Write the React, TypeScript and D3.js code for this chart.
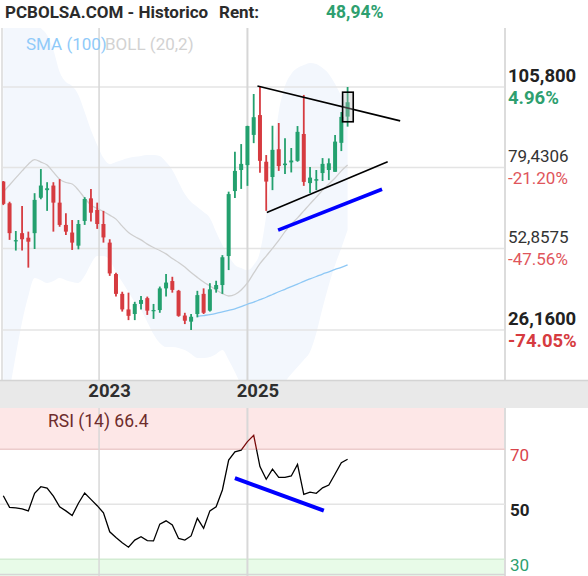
import React from "react";
import * as d3 from "d3";

const W = 588;
const H = 576;

// ---- data (monthly candles, index 0 = Oct 2021) ----
const opens = [74.8, 67.7, 55.2, 57.9, 56.4, 57.9, 69.5, 72.0, 73.5, 67.9, 60.6, 58.1, 53.8, 61.9, 69.3, 65.5, 60.9, 54.8, 44.5, 38.0, 32.9, 31.4, 34.7, 36.6, 32.5, 32.7, 39.8, 42.2, 39.0, 30.9, 28.9, 31.4, 38.0, 32.5, 39.5, 40.9, 50.4, 71.7, 78.6, 80.2, 90.1, 96.6, 81.3, 76.3, 85.4, 80.2, 81.1, 81.6, 90.4, 74.3, 75.1, 77.6, 78.6, 78.0, 87.5, 96.1];
const highs = [75.0, 68.2, 58.6, 66.8, 58.4, 71.0, 78.9, 74.6, 74.6, 75.6, 64.4, 62.2, 62.2, 69.7, 72.4, 67.9, 65.2, 55.9, 44.9, 38.7, 38.4, 35.4, 37.3, 37.1, 34.7, 40.4, 44.5, 43.6, 39.3, 31.8, 31.4, 39.0, 39.8, 41.5, 42.3, 50.7, 71.5, 84.6, 87.1, 93.1, 103.5, 105.8, 83.5, 93.1, 94.0, 89.0, 85.8, 93.0, 103.2, 79.6, 78.6, 82.5, 82.4, 90.1, 97.6, 105.8];
const lows = [67.1, 55.7, 52.2, 52.2, 46.6, 52.7, 69.0, 65.2, 58.4, 60.0, 57.3, 52.4, 52.6, 60.6, 61.7, 59.3, 54.8, 43.9, 37.1, 32.2, 29.4, 29.4, 32.9, 31.1, 29.8, 31.8, 37.1, 38.4, 30.5, 28.1, 26.16, 30.3, 31.4, 32.2, 38.4, 38.0, 45.8, 69.4, 72.4, 73.4, 87.4, 77.7, 65.2, 72.0, 78.3, 77.3, 77.8, 81.3, 73.4, 71.1, 72.0, 75.0, 75.3, 78.0, 84.8, 92.8];
const closes = [67.5, 57.9, 55.6, 55.9, 55.1, 68.8, 73.5, 72.6, 67.9, 60.6, 58.4, 54.8, 60.9, 69.1, 64.6, 60.9, 56.5, 44.7, 38.0, 32.9, 30.8, 34.7, 36.0, 32.5, 32.7, 39.8, 41.7, 39.3, 30.8, 29.2, 30.5, 37.6, 31.8, 39.5, 40.9, 50.0, 70.7, 78.3, 80.6, 93.0, 95.9, 81.6, 74.8, 85.2, 79.9, 80.7, 81.7, 91.1, 74.7, 76.1, 75.6, 80.6, 80.8, 87.9, 96.0, 100.8];

const bollMid = [71.4, 73.7, 76.0, 78.3, 80.5, 82.0, 81.2, 80.2, 77.9, 75.6, 74.5, 74.0, 72.0, 69.4, 67.1, 66.0, 65.0, 63.8, 62.5, 60.2, 58.1, 56.8, 55.7, 54.3, 53.2, 52.2, 51.1, 49.6, 48.3, 46.8, 45.0, 43.4, 41.9, 40.6, 39.3, 38.1, 37.3, 37.8, 39.3, 41.6, 44.8, 47.9, 50.4, 52.9, 55.5, 58.4, 60.9, 62.9, 65.2, 67.5, 69.7, 72.0, 74.0, 76.0, 78.3, 80.2];
const bollUp = [137.6, 139.2, 137.6, 134.3, 131.0, 127.8, 125.1, 122.8, 117.9, 110.7, 107.4, 106.1, 103.2, 97.6, 91.7, 86.8, 82.5, 80.5, 81.2, 81.9, 82.5, 82.9, 83.2, 83.5, 83.5, 83.2, 81.2, 78.6, 74.6, 70.7, 68.1, 66.5, 64.8, 62.9, 58.3, 54.0, 50.4, 47.5, 46.5, 45.8, 47.5, 51.7, 63.8, 81.9, 97.6, 106.1, 110.1, 112.0, 113.0, 113.7, 113.3, 112.0, 110.1, 106.8, 102.9, 99.9];
const bollLow = [-3.3, 6.5, 18.0, 28.8, 37.3, 43.2, 42.5, 41.6, 42.2, 43.2, 42.5, 41.9, 41.6, 43.9, 47.8, 50.4, 50.4, 49.1, 45.2, 41.9, 38.6, 35.3, 32.7, 28.8, 24.8, 21.9, 20.6, 20.6, 20.3, 19.6, 18.3, 17.0, 17.0, 17.3, 18.3, 19.6, 16.3, 12.4, 8.1, 4.9, 3.2, 1.6, 1.6, 3.2, 5.8, 9.1, 11.7, 14.0, 16.3, 19.0, 25.2, 33.4, 40.9, 47.5, 53.0, 58.9];
const sma100: (number | null)[] = [null, null, null, null, null, null, null, null, null, null, null, null, null, null, null, null, null, null, null, null, null, null, null, null, null, null, null, null, null, null, null, 30.6, 30.9, 31.2, 31.6, 32.1, 32.6, 33.1, 33.8, 34.6, 35.3, 36.1, 36.9, 37.8, 38.7, 39.5, 40.4, 41.2, 42.1, 42.9, 43.7, 44.5, 45.2, 46.0, 46.7, 47.5];

const rsi = [53.1, 48.9, 48.7, 48.3, 47.6, 54.0, 56.4, 55.9, 53.0, 49.1, 47.6, 45.9, 50.4, 54.1, 51.8, 49.5, 46.9, 40.0, 37.9, 36.0, 34.4, 37.0, 38.2, 36.8, 36.7, 42.8, 44.0, 42.5, 37.6, 37.0, 38.5, 44.9, 41.3, 47.6, 49.1, 55.2, 66.1, 69.1, 69.7, 72.8, 75.1, 63.7, 59.1, 62.8, 59.8, 59.8, 60.3, 64.5, 53.6, 54.4, 54.0, 56.0, 57.0, 61.0, 65.1, 66.4];

const yearLabels = ["2023", "2025"];
const yearIndex = [15.3, 39.0];

const priceLevels = [105.8, 79.4306, 52.8575, 26.16];
const priceLabels = ["105,800", "79,4306", "52,8575", "26,1600"];
const pctLabels = ["4.96%", "-21.20%", "-47.56%", "-74.05%"];
const levelBold = [true, false, false, true];

const rsiLevels = [70, 50, 30];

// annotations: [candle index, value]
const trendDown = [[40.6, 106.1], [63.4, 94.7]];
const trendUp = [[42.1, 64.7], [61.4, 81.3]];
const blueMain = [[43.9, 58.9], [60.5, 72.3]];
const boxLast = [[54.2, 104.1], [55.9, 94.4]];
const blueRsi = [[37.0, 59.5], [51.2, 47.7]];

const GREEN = "#23a06e";
const RED = "#d63b40";
const FONT = "Roboto, 'Noto Sans', sans-serif";

export default function App() {
  const n = closes.length;
  const x = d3.scaleLinear().domain([0, n - 1]).range([3.3, 347.6]);
  const y = d3.scaleLinear().domain([26.16, 105.8]).range([330, 87]);
  const yR = d3.scaleLinear().domain([30, 70]).range([559.3, 449.3]);

  const plotTop = 28;
  const plotBottom = 380;
  const plotRight = 505;
  const rsiTop = 408;

  const idx = d3.range(n);
  const bandArea = d3
    .area<number>()
    .x((i) => x(i))
    .y0((i) => y(bollLow[i]))
    .y1((i) => y(bollUp[i]))
    .curve(d3.curveMonotoneX);
  const midLine = d3
    .line<number>()
    .x((i) => x(i))
    .y((i) => y(bollMid[i]))
    .curve(d3.curveMonotoneX);
  const smaLine = d3
    .line<number>()
    .defined((i) => sma100[i] != null)
    .x((i) => x(i))
    .y((i) => y(sma100[i] as number))
    .curve(d3.curveMonotoneX);
  const rsiLine = d3
    .line<number>()
    .x((i) => x(i))
    .y((i) => yR(rsi[i]));

  const seg = (pts: number[][], sy: (v: number) => number) => ({
    x1: x(pts[0][0]),
    y1: sy(pts[0][1]),
    x2: x(pts[1][0]),
    y2: sy(pts[1][1]),
  });
  const tDown = seg(trendDown, y);
  const tUp = seg(trendUp, y);
  const bMain = seg(blueMain, y);
  const bRsi = seg(blueRsi, yR);
  const box = seg(boxLast, y);

  return (
    <svg
      width={W}
      height={H}
      style={{ position: "absolute", left: 0, top: 0, background: "#fff" }}
      fontFamily={FONT}
    >
      <defs>
        <clipPath id="plotClip">
          <rect x={2} y={plotTop} width={plotRight - 2} height={plotBottom - plotTop} />
        </clipPath>
        <clipPath id="rsiHigh">
          <rect x={0} y={rsiTop} width={plotRight} height={yR(70) - rsiTop} />
        </clipPath>
        <clipPath id="rsiLow">
          <rect x={0} y={yR(70)} width={plotRight} height={H - yR(70)} />
        </clipPath>
      </defs>

      {/* Title */}
      <text x={5} y={18.3} fontSize={17} fontWeight="bold" fill="#2b2b2b">
        PCBOLSA.COM - Historico
      </text>
      <text x={219} y={18.3} fontSize={17} fontWeight="bold" fill="#2b2b2b">
        Rent:
      </text>
      <text x={326} y={18.3} fontSize={17.5} fontWeight="bold" fill="#2e9f6f">
        48,94%
      </text>

      {/* main plot */}
      <g clipPath="url(#plotClip)">
        <path d={bandArea(idx) || ""} fill="#f3f7fd" />
      </g>
      {priceLevels.map((p, k) => (
        <line key={"g" + k} x1={2} x2={plotRight} y1={y(p)} y2={y(p)} stroke="#e4e4e4" strokeWidth={1.6} />
      ))}
      {yearIndex.map((v, k) => (
        <line key={"v" + k} x1={x(v)} x2={x(v)} y1={plotTop} y2={plotBottom} stroke="#d6d6d6" strokeWidth={k === 1 ? 2 : 1.5} />
      ))}
      <line x1={2} x2={2} y1={plotTop} y2={plotBottom} stroke="#e2e2e2" strokeWidth={2} />
      <line x1={plotRight} x2={plotRight} y1={plotTop} y2={H} stroke="#dcdcdc" strokeWidth={2} />

      <text x={26} y={50} fontSize={17} fill="#90caf9">SMA (100)</text>
      <text x={105} y={50} fontSize={17} fill="#d2d2d2">BOLL (20,2)</text>

      <g clipPath="url(#plotClip)">
        <path d={midLine(idx) || ""} fill="none" stroke="#cfcfcf" strokeWidth={1.3} />
        <path d={smaLine(idx) || ""} fill="none" stroke="#8ec8f5" strokeWidth={1.3} />
        {idx.map((i) => {
          const up = closes[i] >= opens[i];
          const c = up ? GREEN : RED;
          const top = y(Math.max(opens[i], closes[i]));
          const bot = y(Math.min(opens[i], closes[i]));
          return (
            <g key={"c" + i}>
              <line x1={x(i)} x2={x(i)} y1={y(highs[i])} y2={y(lows[i])} stroke={c} strokeWidth={1.8} />
              <rect x={x(i) - 2} y={top} width={4} height={Math.max(1.2, bot - top)} fill={c} />
            </g>
          );
        })}
      </g>

      {/* annotations */}
      <line {...tDown} stroke="#000" strokeWidth={1.6} />
      <line {...tUp} stroke="#000" strokeWidth={1.6} />
      <line {...bMain} stroke="#0000ff" strokeWidth={3.6} />
      <rect
        x={box.x1}
        y={box.y1}
        width={box.x2 - box.x1}
        height={box.y2 - box.y1}
        fill="rgba(190,190,190,0.35)"
        stroke="#000"
        strokeWidth={1.6}
      />

      {/* price labels */}
      {priceLevels.map((p, k) => (
        <g key={"pl" + k}>
          <text
            x={508}
            y={y(p) - 5.5}
            fontSize={levelBold[k] ? 18.5 : 17}
            fontWeight={levelBold[k] ? "bold" : "normal"}
            fill={levelBold[k] ? "#222" : "#333"}
          >
            {priceLabels[k]}
          </text>
          <text
            x={508}
            y={y(p) + 16.5}
            fontSize={levelBold[k] ? 18.5 : 17}
            fontWeight={levelBold[k] ? "bold" : "normal"}
            fill={k === 0 ? "#2e9f6f" : levelBold[k] ? "#d63b40" : "#e0555b"}
          >
            {pctLabels[k]}
          </text>
        </g>
      ))}

      {/* x axis band */}
      <rect x={0} y={plotBottom} width={W} height={rsiTop - plotBottom} fill="#e9e9e9" />
      <line x1={0} x2={W} y1={plotBottom + 0.5} y2={plotBottom + 0.5} stroke="#d4d4d4" strokeWidth={1.5} />
      {yearIndex.map((v, k) => (
        <text key={"yl" + k} x={x(v) + 10.5} y={397} fontSize={18.5} fontWeight="bold" fill="#2e2e2e" textAnchor="middle">
          {yearLabels[k]}
        </text>
      ))}

      {/* RSI panel */}
      <rect x={0} y={rsiTop} width={plotRight - 1} height={yR(70) - rsiTop} fill="#fde7e7" />
      <rect x={0} y={yR(30)} width={plotRight - 1} height={H - yR(30)} fill="#e8fbe8" />
      {rsiLevels.map((v, k) => (
        <line key={"rl" + k} x1={0} x2={plotRight} y1={yR(v)} y2={yR(v)} stroke={k === 0 ? "#eccccc" : k === 2 ? "#d2ecd2" : "#e4e4e4"} strokeWidth={1.5} />
      ))}
      {yearIndex.map((v, k) => (
        <line key={"rv" + k} x1={x(v)} x2={x(v)} y1={rsiTop} y2={H} stroke="#d8d8d8" strokeWidth={k === 1 ? 2 : 1.5} />
      ))}
      <line x1={0} x2={plotRight} y1={574.5} y2={574.5} stroke="#d6d6d6" strokeWidth={1.5} />
      <text x={48} y={427} fontSize={17.5} fill="#6e2c2c">RSI (14) 66.4</text>

      <path d={rsiLine(idx) || ""} fill="none" stroke="#000" strokeWidth={1.3} clipPath="url(#rsiLow)" />
      <path d={rsiLine(idx) || ""} fill="none" stroke="#7a0a0a" strokeWidth={1.3} clipPath="url(#rsiHigh)" />
      <line {...bRsi} stroke="#0000ff" strokeWidth={4} />

      {rsiLevels.map((v, k) => (
        <text
          key={"rt" + k}
          x={510}
          y={yR(v) + 11.5}
          fontSize={17}
          fontWeight={k === 1 ? "bold" : "normal"}
          fill={k === 0 ? "#d9434b" : k === 1 ? "#222" : "#2e9f6f"}
        >
          {v}
        </text>
      ))}
    </svg>
  );
}
